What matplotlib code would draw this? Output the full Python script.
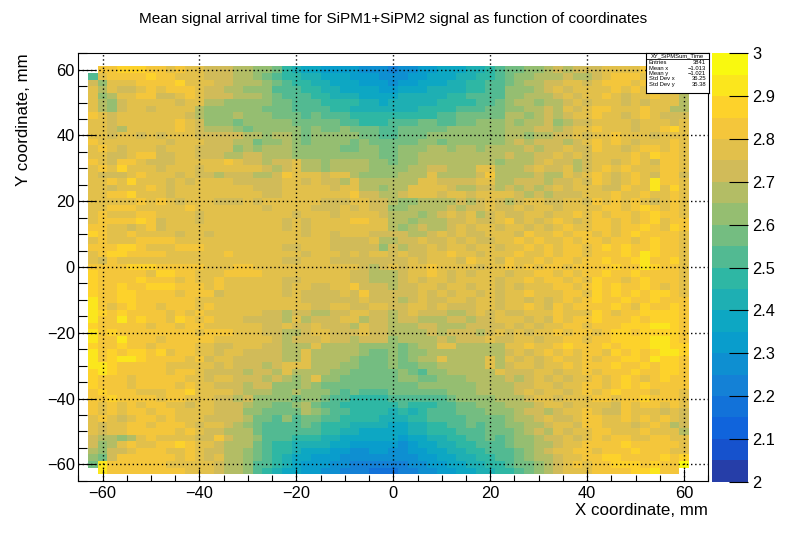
import numpy as np
import matplotlib
matplotlib.use("Agg")
import matplotlib.pyplot as plt
from matplotlib.colors import ListedColormap, BoundaryNorm
from matplotlib.ticker import MultipleLocator

# ---------------- data ----------------
# Histogram binning (mm)
x_lo, y_lo, bin_w = -63.0, -63.0, 2.0
axis_range = (-65.0, 65.0)

# Colour-band levels (ns): 20 bands from 2.0 to 3.0
z_levels = np.round(np.arange(2.0, 3.0001, 0.05), 3)
band_codes = "ABCDEFGHIJKLMNOPQRST"   # band index -> letter ('.' = empty bin)

# Mean arrival time per bin, coded by colour band, rows from top (y=61) to bottom (y=-63)
time_rows = [
    ".QQRRRQQPQPPOOONNMML" + "JIHHGGGGFFFEFFGGHHHIIJK" + "LLMMNONOOOPPPPQPPPP",
    "KPQQQQRQQPPPOOONNMLK" + "JJIIHHHGGGFFFGGHHHIIJJK" + "LMMNNNONNOPQQQPPPPP",
    "OMPPPQQQQRPPPOONNNML" + "KJJIIHHHGGGFGGHHHIIJJKK" + "LMNNOOPPOPQQQPQPPPP",
    "PNPOOPQPQQQPOONNMMMK" + "KKJJIIHHHHGGHHHIIIIJJKK" + "MMMNOPOPPPPQPQPPPPP",
    "PMNPPQQOOPQPOOONNNML" + "KKKJJIIIHHHHIIIIIJJKKKK" + "MMNNNOPOPPQPOPPQPPN",
    "PNMOPPPPPOPPNNMMMMML" + "LKKKJJJJIIHIIIIIJJJJKKL" + "MNNMNNOPOPPPOPOPPPN",
    "PNMOPPOPPPPNMMMMMMLL" + "LKKKKJJIIIIIIIJJJJKKKLL" + "MMNNONPOPQQPPPQPPNN",
    "QPOPPPPPPPONMMMNMMML" + "LLKLKKKJJJJJJJJJKKLLLLL" + "NNMNONOPPQPPOPQPOOO",
    "PPOPPPPPPQPOMMMLMMMM" + "MLLLLLKKJJJKKKLLKKLLMMM" + "NMNNOMNOOPPPPOPPPOP",
    "PPONPPPPPQPONNNMLMMM" + "MMLMLLMLLLKKLLLLLMMMMMM" + "NNNOONOPPQPPPOPPQRP",
    "PPOPPOPOPPPOOOOONNMN" + "NMLMMMMMLLKKLLLMMMMMMMM" + "NNMNNOOPOPPQPPPOPPP",
    "QPPPPPPPOPPPOOONNLMM" + "NMLMMMMLMLLLLLMMLMMMMMM" + "NONOOONOPQPQPOPPPQP",
    "PQPOPPPOPPPOOOOMNMNN" + "NMMMMMLLMMLLMMMNNMNNMNN" + "NNONOOPOOQPPOPQQPQP",
    "PPOOPQQOOPPOOONNOONN" + "NMMMMMMMMMLLMMNNNNNNNNN" + "ONNOOPOPOPPPPQPRQQP",
    "QPOQQPOOOPPPPPQPOONO" + "OPNNMNNNNMMLMMNNNNNNNNM" + "NNNOPOONOPPOPQPOQQP",
    "PQPRPPPOPPPOPPPPPPON" + "OPNNMNNNNMMMMNNOONNNPPN" + "NNOPOOPNOPQPQPPPQQP",
    "POOOPQPPPOPOONOOONNO" + "QPPPOPPNMMMMNNNPNNNNOQN" + "NNNONNPOPQPOPQPOQQO",
    "PPQPRPPPOPOPPPPOOOOO" + "PPOPOONPNNNNNNPPOOOOPPN" + "NOOONOOPOQPOPQPSQQP",
    "PPOPPPQPOPPPPPPPPOOO" + "PPPPPOPPNNMNNPPPPONNOON" + "ONONOPOPPPOOQPPSPRP",
    "PPQQRPPPOPPPPPPPPPOO" + "PPPPPPPQOONNOPPPOPPOPPP" + "PONONOOOPPPQPPQPPQP",
    "PPPPPQPQPOPPPOOOPOPPPPPPOOOPPOO" + "NMMNNNNONOPONOPPOOPPOQPQPQPOPQP",
    "PPQQQPPPPPQPPPPPPPOPPPPOOOPOPOO" + "MMNNNNONOOPOOPOPPOPPPPQQPQRQPQP",
    "PQPPPQQPPPPOPPPPPPPPPOPPPOPPPPO" + "NNNMNOPOPNOPOOPPOPPQPQPQQPQRQQP",
    "PQQQQRQOPPPOPPPPPPPPOPOPPPPQQPP" + "NNMNNNOOPOOPQOPOPQPOPQQPQPQRPQQ",
    "QQPPOPQOPPPPPPPPPPPPOPOPPPPPPPP" + "NMNONNOPOPPOPPOPOPQPPQQPQQRQPRQ",
    "RQPPQPPPPOPPOPPPPPPPPPOPPOPPPOO" + "OONNOPOPOOPPPOQPPQPQQPQPQRQQQQP",
    "PQPPPQQQQPPPPPPPPPPPPPPPPOOOOPN" + "NOOPOOPOPOOPPQPQPPQPQQPQQPQRQQP",
    "QQQRRQPPPQQQPPPPPPPPOOPPPOOOOOM" + "ONOOPOPPOPPOPPQPQPQQPQRQRQQRQQP",
    "PQRRQQQQPPPPPPQPPPPPPPOPPPOPOPP" + "OPOOPPQPPOPPPQPPQPQQPQQQRQSRQQP",
    "POQPPPPPPPPPPPPPPPPPOOPPPOOOOOO" + "OOPOPPPOQPPOQPPQPQQPQQRQQRSQQRP",
    "QQQQRRRQQQQQPPPQQPPPPPPPPPPPONO" + "POPPQPPPPOPPQPQPQQPQQQQRQQSRQQP",
    "RQQQQQPRRQQPPPQQQQPPPPPPPPPOONN" + "NOPPQPOPOPPPOPPQQPQPQQRQQRQQQQP",
    "RQQQQRQQQPQPPQPPPPPPOOPPPPPOONN" + "NOPOPPOPPPPOPPQPQQPQPRQQPQRQQQP",
    "RQQRQQRRRQQQPQPPPPPPOPPOOPPQOOO" + "NOOPPOPPOPPOPOPPPQQPQRQRQQRQPQP",
    "RQQRRQQQQPQQQOPPPPPPOPOOOOPOQOO" + "OOOPOPOPPOPOPPQPPPQQPRQRQRQRRQP",
    "SQQRRQQQQQQPPPPPPPPPPPOOOOOOPOO" + "ONOPOOPPOPPOPPOPOPQPQRQQRQQRQQQ",
    "SQPQRQQPQQQPQPPPPPPPPPPOOPPOOPP" + "OOPPOPOOOPPOPPQPOQPQQQQRQPRQQRQ",
    "SRQRQQQQPQPQPPPPPPOONOONNOOPPOO" + "NOPOOONNOPOPOOPPPQPPPRQPQQRRRRQ",
    "SQQSQRQQPRQPQPPPOOOONPNOOOPPNOO" + "NOONNNOONOOPPPOPOQPQQRQQQRQRRRQ",
    "RQQQQQPQQPQQPPPPPPOOPOOPOOONPOO" + "NNNOONNNOOOOPOPOPPQQPQQQRRRSSRQ",
    "SQRQQQQQQQQPQQQPPPOONNOPPOOOPOO" + "NNNNONOOONOPOPOPPQPQQPQRRQRRRRQ",
    "SQQSQQQPQQQQQPPPPPPONOOOPOONOOO" + "MNNNNONOOOPOOPPOPPQQPQQRRRRSSRQ",
    "RQQRQQPQQQQPPOOPPPOO" + "NNNPNNNNMMMMLMNNPPNNNNN" + "PPQPPQRQQQRQRRRSSRR",
    "SQRQRRQRPQQPPOPPOOOO" + "NNPNNNNNMLLMLMMNNNNNNNN" + "OPOPQPQPQQPRQRQRSSR",
    "SQRSSRQQQQPQOPPOOOOO" + "NNPNNNNMLLLMLMNNPNNNNPN" + "POPOPQPPQPQQRRQSRRQ",
    "SSRQQQQQPPPPPOPOOONO" + "PPPNNNMMLLLMLLMMNNNNNPN" + "OPPOPPQPQQQRQQRQRRQ",
    "RSRQQQQQPQQPOOOONOON" + "PNNNNMMLLLLLMLKMMNNNNNP" + "OOOPPOPPQPQQQRQQRRQ",
    "RQQQPQQQQQPPOPPOOONO" + "NMNPMMLLLLLLMMLLMMMNNNN" + "ONOPOPOPPQPQRQPQRQQ",
    "RQQQPQQQQPQPPOOONOOM" + "MMNMLLLLLLLLLLMMMMMMNNN" + "NOOPPOPPQQPQRQRQQQQ",
    "QRQQQPPPQQRPPPPONNNM" + "MNMMMLKLKKKLLLLLLMMMNNN" + "NOPOPPOPQPQRQQQPQQP",
    "QQRQQQQPQQPPPOONOMMM" + "MLMMLKKJJJJKKKKKKLMMMMN" + "NNOPPOPPPQQPQQRQQQP",
    "QPQPQPQQPPOPPOOONMML" + "LMNLKKJJJJJJKJJJKKLLMMM" + "NNNOPPOPPPPOQPQQPQP",
    "QPQPQQPQQPPPPOOOMMLL" + "LLNMLKKJJJJIJIJKKKLLLMM" + "MNOONOPPQPOOQPPPOPO",
    "PQPOPQQPQPPPOOOONLLK" + "MKLLKKJJJJIIIJJKKKKLLLL" + "MNNOPOOPQQPPQPQPQPO",
    "POPPQQPQQQPOPPONMLKK" + "KKLKJJJIIIIHHIIJJKKLKLL" + "MMNNOPPOQQPPPOPQPNO",
    "POPPQQQQQPQPOONNNLKK" + "KKKKJJIIHHHHHIIJJJKKKLL" + "LMNONPOPPQQPPPQPPPN",
    "ONNMNPQPPPPOOQONNMKK" + "KJJJIIHHHHHHGHHIIJJKKLK" + "LMMNOOPOPQPQQPPQQPP",
    "OMNPQPPQQRQPPONNNLKJ" + "JIIIIHHGGGGGFGHHIIJJKKK" + "LMMNNOPPQQQQRQQQQQP",
    "NMOOPQQQPPQPOONNMLKJ" + "JIHHHGGFFGGFFGGHHIIJJKK" + "KLMNOPPQQPQQQRQQQPP",
    "MLOQQQQQQPQPOPNNMLKJ" + "IHHGGGFFFFFFFFGGHHIIJJK" + "KLMNNOPPQQRRQQQQRQR",
    "LSQQQQQQPPPPPONNMKKJ" + "IHGGGFFEEEEEEFFGGHHIIJJ" + "KLLMNOPQPQQRRRQRQQT",
    ".SQQQQQQQQPPPONNMKJI" + "HHGGFFEEEDDDEEFFGGHHIIJ" + "JKLMNOPPPQQQQRRSQQ.",
]

stats_title = "XY_SiPMSum_Time"
stats_labels = ["Entries", "Mean x", "Mean y", "Std Dev x", "Std Dev y"]
stats_values = ["3841", "\u22121.013", "\u22121.021", "36.25", "35.38"]

# ---------------- decode ----------------
n_rows = len(time_rows)
n_cols = len(time_rows[0])
for r in time_rows:
    if len(r) != n_cols:
        raise ValueError("row length mismatch: %d" % len(r))
band_mid = (z_levels[:-1] + z_levels[1:]) / 2.0
Z = np.full((n_rows, n_cols), np.nan)
for i, row in enumerate(time_rows):
    for j, ch in enumerate(row):
        if ch != ".":
            Z[i, j] = band_mid[band_codes.index(ch)]
Z = Z[::-1]  # bottom row first
Zm = np.ma.masked_invalid(Z)
x_edges = x_lo + bin_w * np.arange(n_cols + 1)
y_edges = y_lo + bin_w * np.arange(n_rows + 1)

# ---------------- ROOT kBird palette ----------------
stops = [0.0000, 0.1250, 0.2500, 0.3750, 0.5000, 0.6250, 0.7500, 0.8750, 1.0000]
red = [0.2082, 0.0592, 0.0780, 0.0232, 0.1802, 0.5301, 0.8186, 0.9956, 0.9764]
green = [0.1664, 0.3599, 0.5041, 0.6419, 0.7178, 0.7492, 0.7328, 0.7862, 0.9832]
blue = [0.5293, 0.8684, 0.8385, 0.7914, 0.6425, 0.4662, 0.3499, 0.1968, 0.0539]
ncol = 255
pal = []
for g in range(1, len(stops)):
    n = int(np.floor(ncol * stops[g]) - np.floor(ncol * stops[g - 1]))
    for c in range(n):
        pal.append((red[g - 1] + c * (red[g] - red[g - 1]) / n,
                    green[g - 1] + c * (green[g] - green[g - 1]) / n,
                    blue[g - 1] + c * (blue[g] - blue[g - 1]) / n))
ndiv = len(z_levels) - 1
band_colors = [pal[min(int((k + 0.99) * ncol / ndiv), len(pal) - 1)] for k in range(ndiv)]
cmap = ListedColormap(band_colors)
norm = BoundaryNorm(z_levels, cmap.N)

# ---------------- figure ----------------
plt.rcParams["font.family"] = ["Liberation Sans", "DejaVu Sans"]
W, H = 787, 534
fig = plt.figure(figsize=(W / 100, H / 100), dpi=100)
fx = lambda px: px / W
fy = lambda py: 1 - py / H

L, R, T, B = 78.3, 708.3, 53.3, 480.7
ax = fig.add_axes([fx(L), fy(B), fx(R) - fx(L), fy(T) - fy(B)])
ax.pcolormesh(x_edges, y_edges, Zm, cmap=cmap, norm=norm, shading="flat", zorder=1)
ax.set_xlim(*axis_range)
ax.set_ylim(*axis_range)

ax.xaxis.set_major_locator(MultipleLocator(20))
ax.xaxis.set_minor_locator(MultipleLocator(5))
ax.yaxis.set_major_locator(MultipleLocator(20))
ax.yaxis.set_minor_locator(MultipleLocator(5))
ax.grid(True, which="major", color="black", linestyle=(0, (1, 2)), linewidth=1.0, zorder=3)
ax.set_axisbelow(False)
ax.tick_params(axis="x", which="major", direction="in", length=8.6, width=0.8,
               labelsize=11.8, pad=4.0, top=False)
ax.tick_params(axis="x", which="minor", direction="in", length=4.3, width=0.8, top=False)
ax.tick_params(axis="y", which="major", direction="in", length=13, width=0.8,
               labelsize=11.8, pad=2.4, right=False)
ax.tick_params(axis="y", which="minor", direction="in", length=6.5, width=0.8, right=False)
for s in ax.spines.values():
    s.set_linewidth(0.8)
    s.set_zorder(5)

# axis titles
fig.text(fx(708.3), fy(515), "X coordinate, mm", ha="right", va="baseline", fontsize=12.2)
fig.text(fx(28.3), fy(53.3), "Y coordinate, mm", ha="right", va="baseline",
         rotation=90, rotation_mode="anchor", fontsize=12.2)

# title
fig.text(0.5, fy(23.3), "Mean signal arrival time for SiPM1+SiPM2 signal as function of coordinates",
         ha="center", va="baseline", fontsize=11.0)

# colour bar (palette)
cL, cR, cT, cB = 712.3, 748.3, 53.3, 481.7
cax = fig.add_axes([fx(cL), fy(cB), fx(cR) - fx(cL), fy(cT) - fy(cB)])
cax.pcolormesh([0, 1], z_levels, np.array(band_mid).reshape(-1, 1), cmap=cmap, norm=norm)
cax.set_xlim(0, 1)
cax.set_ylim(z_levels[0], z_levels[-1])
cax.set_xticks([])
cax.yaxis.tick_right()
cb_ticks = np.round(np.arange(2.0, 3.0001, 0.1), 2)
cax.set_yticks(cb_ticks)
cax.set_yticklabels(["%g" % t for t in cb_ticks])
cax.tick_params(axis="y", which="major", direction="in", length=13.7, width=0.8,
                labelsize=11.8, pad=2.7, left=False, right=True)
for s in cax.spines.values():
    s.set_visible(False)

# stats box
sL, sR, sT, sB = 646.0, 708.7, 53.0, 93.0
sax = fig.add_axes([fx(sL), fy(sB), fx(sR) - fx(sL), fy(sT) - fy(sB)], zorder=10)
sax.set_xlim(0, 1)
sax.set_ylim(0, 1)
sax.set_xticks([])
sax.set_yticks([])
sax.set_facecolor("white")
for s in sax.spines.values():
    s.set_linewidth(0.8)
hdr = (sB - 59.0) / (sB - sT)
sax.axhline(hdr, color="black", linewidth=0.6)
sax.text(0.5, (hdr + 1) / 2, stats_title, ha="center", va="center", fontsize=4.2)
row_ys = [62.7, 68.3, 73.7, 79.0, 84.3]
for lab, val, py in zip(stats_labels, stats_values, row_ys):
    yy = (sB - py) / (sB - sT)
    sax.text(0.04, yy, lab, ha="left", va="center", fontsize=4.2)
    sax.text(0.96, yy, val, ha="right", va="center", fontsize=4.2)

fig.savefig("out.png", dpi=100)
